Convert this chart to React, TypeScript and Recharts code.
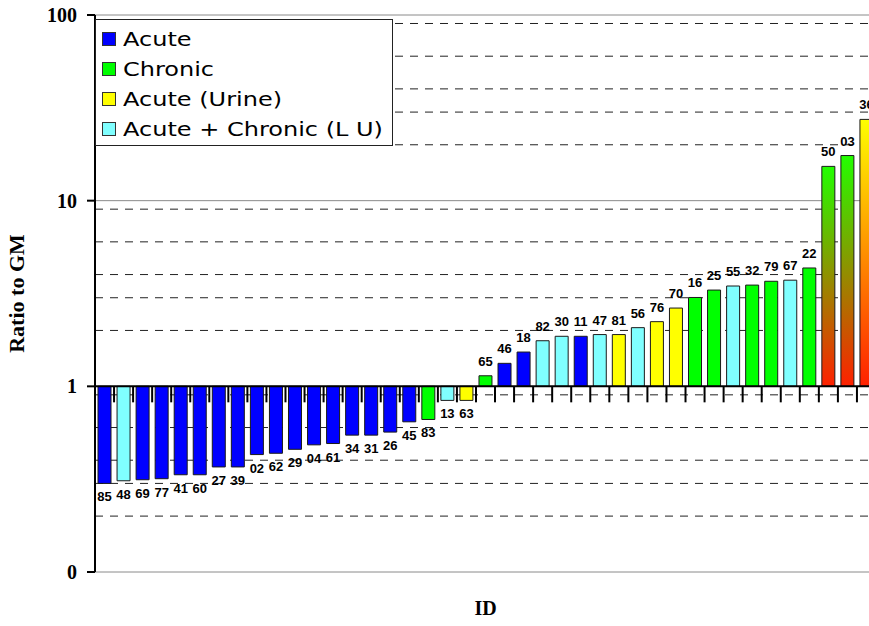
import { BarChart, Bar, XAxis, YAxis, CartesianGrid, Cell, LabelList, Legend, ReferenceLine } from 'recharts';

// Patient IDs, sorted by ratio
const ids = ['85', '48', '69', '77', '41', '60', '27', '39', '02', '62', '29', '04', '61', '34', '31', '26', '45', '83', '13', '63',
  '65', '46', '18', '82', '30', '11', '47', '81', '56', '76', '70', '16', '25', '55', '32', '79', '67', '22', '50', '03', '36'];

// Ratio to geometric mean
const ratios = [0.30, 0.31, 0.314, 0.318, 0.334, 0.334, 0.368, 0.368, 0.429, 0.436, 0.458, 0.484, 0.492, 0.546, 0.546, 0.567, 0.644, 0.663, 0.84, 0.84,
  1.14, 1.33, 1.53, 1.76, 1.86, 1.86, 1.90, 1.90, 2.07, 2.23, 2.64, 3.01, 3.30, 3.47, 3.51, 3.68, 3.73, 4.34, 15.3, 17.5, 27.4];

// A = Acute, C = Chronic, U = Acute (Urine), L = Acute + Chronic (L U)
const groups = ['A', 'L', 'A', 'A', 'A', 'A', 'A', 'A', 'A', 'A', 'A', 'A', 'A', 'A', 'A', 'A', 'A', 'C', 'L', 'U',
  'C', 'A', 'A', 'L', 'L', 'A', 'L', 'U', 'L', 'U', 'U', 'C', 'C', 'L', 'C', 'C', 'L', 'C', 'C', 'C', 'U'];

// bars drawn with a red fade
const highlighted = ['50', '03', '36'];

const legendItems = [
  { key: 'A', name: 'Acute', color: '#0000ff' },
  { key: 'C', name: 'Chronic', color: '#00ff00' },
  { key: 'U', name: 'Acute (Urine)', color: '#ffff00' },
  { key: 'L', name: 'Acute + Chronic (L U)', color: '#80ffff' },
];

const yTicks = [0.1, 1, 10, 100];
const minorLines = [0.2, 0.3, 0.4, 0.5, 0.6, 0.7, 0.8, 0.9, 2, 3, 4, 5, 6, 7, 8, 9, 20, 30, 40, 50, 60, 70, 80, 90];
const majorLines = [10, 100];

const data = ids.map((id, i) => ({ id, ratio: ratios[i], group: groups[i], span: [1, ratios[i]] }));

const colorOf = (g: string) => legendItems.find(l => l.key === g)?.color ?? '#999';

function fillFor(i: number) {
  if (highlighted.includes(ids[i])) return groups[i] === 'U' ? 'url(#fadeU)' : 'url(#fadeC)';
  return colorOf(groups[i]);
}

const BarLabel = (props: any) => {
  const vb = props.viewBox ?? props;
  const { x, y, width, height } = vb;
  const idx = typeof props.index === 'number' ? props.index : ids.indexOf(String(props.value));
  const top = Math.min(y, y + height);
  const bottom = Math.max(y, y + height);
  const up = ratios[idx] >= 1;
  return (
    <text
      x={x + width / 2}
      y={up ? top - 10 : bottom + 18}
      textAnchor="middle"
      fontFamily="'Liberation Sans', Arial, sans-serif"
      fontWeight="bold"
      fontSize={13}
      fill="#000"
    >
      {props.value}
    </text>
  );
};

// the x axis crosses at 1, with ticks hanging below it at category edges
const AxisAtOne = (props: any) => {
  const { x1, x2, y1 } = props;
  const step = (x2 - x1) / ids.length;
  return (
    <g>
      <line x1={x1} x2={x2} y1={y1} y2={y1} stroke="#000" strokeWidth={2} />
      {ids.map((_, i) => (
        <line key={i} x1={x1 + i * step} x2={x1 + i * step} y1={y1} y2={y1 + 16} stroke="#000" strokeWidth={2} />
      ))}
    </g>
  );
};

const LegendBox = () => (
  <div style={{ background: '#fff', border: '1px solid #222', width: 296, height: 121, paddingTop: 4, boxSizing: 'content-box' }}>
    {legendItems.map(item => (
      <div key={item.key} style={{ display: 'flex', alignItems: 'center', height: 30, paddingLeft: 6 }}>
        <span style={{ width: 12, height: 12, background: item.color, border: '1px solid #333', marginRight: 7, flexShrink: 0 }} />
        <span style={{
          display: 'inline-block', fontFamily: "'DejaVu Sans', Verdana, sans-serif", fontSize: 20, color: '#000',
          transform: 'scaleX(1.2)', transformOrigin: 'left center', whiteSpace: 'nowrap',
        }}>
          {item.name}
        </span>
      </div>
    ))}
  </div>
);

export default function App() {
  return (
    <div style={{ position: 'absolute', left: 0, top: 0, width: 869, height: 626, overflow: 'hidden', background: '#fff' }}>
      <BarChart width={880} height={626} data={data} margin={{ top: 15, right: 4, bottom: 0, left: 0 }} barSize={13}>
        <defs>
          <linearGradient id="fadeC" x1="0" y1="0" x2="0" y2="1">
            <stop offset="0%" stopColor="#22ff00" />
            <stop offset="100%" stopColor="#ff2000" />
          </linearGradient>
          <linearGradient id="fadeU" x1="0" y1="0" x2="0" y2="1">
            <stop offset="0%" stopColor="#ffff00" />
            <stop offset="100%" stopColor="#ff2000" />
          </linearGradient>
        </defs>

        <CartesianGrid vertical={false} horizontalValues={minorLines} stroke="#222" strokeDasharray="8 7" />
        <CartesianGrid vertical={false} horizontalValues={majorLines} stroke="#8a8a8a" />

        <XAxis
          dataKey="id"
          height={54}
          tick={false}
          tickLine={false}
          axisLine={{ stroke: '#8a8a8a' }}
          label={({ viewBox }: any) => (
            <text x={viewBox.x + viewBox.width / 2} y={615} textAnchor="middle"
              fontFamily="'Liberation Serif', 'Times New Roman', serif" fontWeight="bold" fontSize={20} fill="#000">
              ID
            </text>
          )}
        />
        <YAxis
          width={95}
          type="number"
          scale="log"
          domain={[0.1, 100]}
          allowDataOverflow
          ticks={yTicks}
          tickSize={8}
          tickMargin={10}
          tickFormatter={(v: number) => (v < 1 ? '0' : String(v))}
          axisLine={{ stroke: '#000', strokeWidth: 2 }}
          tickLine={{ stroke: '#000', strokeWidth: 2 }}
          tick={{ fill: '#000', fontFamily: "'Liberation Serif', 'Times New Roman', serif", fontWeight: 'bold', fontSize: 20 }}
          label={({ viewBox }: any) => (
            <text x={24} y={viewBox.y + viewBox.height / 2} textAnchor="middle"
              transform={`rotate(-90 24 ${viewBox.y + viewBox.height / 2})`}
              fontFamily="'Liberation Serif', 'Times New Roman', serif" fontWeight="bold" fontSize={22} fill="#000">
              Ratio to GM
            </text>
          )}
        />

        <Bar dataKey="span" stroke="#1a1a1a" strokeWidth={1} isAnimationActive={false}>
          {data.map((d, i) => (
            <Cell key={d.id} fill={fillFor(i)} />
          ))}
          <LabelList dataKey="id" content={BarLabel} />
        </Bar>

        <ReferenceLine y={1} shape={AxisAtOne} />

        <Legend
          layout="vertical"
          align="center"
          verticalAlign="middle"
          content={() => <LegendBox />}
          wrapperStyle={{ left: 95, top: 19, width: 'auto', height: 'auto' }}
        />
      </BarChart>
    </div>
  );
}
